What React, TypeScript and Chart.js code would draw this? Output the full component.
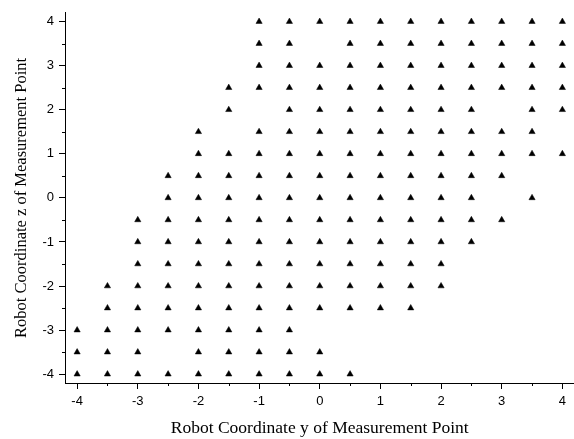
import React, { useEffect, useRef } from "react";
import { Chart, registerables } from "chart.js";

Chart.register(...registerables);

// z levels (rows) and the y values present at each level
const zLevels = [4, 3.5, 3, 2.5, 2, 1.5, 1, 0.5, 0, -0.5, -1, -1.5, -2, -2.5, -3, -3.5, -4];
const yAtZ4 = [-1, -0.5, 0, 0.5, 1, 1.5, 2, 2.5, 3, 3.5, 4];
const yAtZ3_5 = [-1, -0.5, 0.5, 1, 1.5, 2, 2.5, 3, 3.5, 4];
const yAtZ3 = [-1, -0.5, 0, 0.5, 1, 1.5, 2, 2.5, 3, 3.5, 4];
const yAtZ2_5 = [-1.5, -1, -0.5, 0, 0.5, 1, 1.5, 2, 2.5, 3, 3.5, 4];
const yAtZ2 = [-1.5, -0.5, 0, 0.5, 1, 1.5, 2, 2.5, 3.5, 4];
const yAtZ1_5 = [-2, -1, -0.5, 0, 0.5, 1, 1.5, 2, 2.5, 3, 3.5];
const yAtZ1 = [-2, -1.5, -1, -0.5, 0, 0.5, 1, 1.5, 2, 2.5, 3, 3.5, 4];
const yAtZ0_5 = [-2.5, -2, -1.5, -1, -0.5, 0, 0.5, 1, 1.5, 2, 2.5, 3];
const yAtZ0 = [-2.5, -2, -1.5, -1, -0.5, 0, 0.5, 1, 1.5, 2, 2.5, 3.5];
const yAtZm0_5 = [-3, -2.5, -2, -1.5, -1, -0.5, 0, 0.5, 1, 1.5, 2, 2.5, 3];
const yAtZm1 = [-3, -2.5, -2, -1.5, -1, -0.5, 0, 0.5, 1, 1.5, 2, 2.5];
const yAtZm1_5 = [-3, -2.5, -2, -1.5, -1, -0.5, 0, 0.5, 1, 1.5, 2];
const yAtZm2 = [-3.5, -3, -2.5, -2, -1.5, -1, -0.5, 0, 0.5, 1, 1.5, 2];
const yAtZm2_5 = [-3.5, -3, -2.5, -2, -1.5, -1, -0.5, 0, 0.5, 1, 1.5];
const yAtZm3 = [-4, -3.5, -3, -2.5, -2, -1.5, -1, -0.5];
const yAtZm3_5 = [-4, -3.5, -3, -2, -1.5, -1, -0.5, 0];
const yAtZm4 = [-4, -3.5, -3, -2.5, -2, -1.5, -1, -0.5, 0, 0.5];

const yRows = [
  yAtZ4, yAtZ3_5, yAtZ3, yAtZ2_5, yAtZ2, yAtZ1_5, yAtZ1, yAtZ0_5, yAtZ0,
  yAtZm0_5, yAtZm1, yAtZm1_5, yAtZm2, yAtZm2_5, yAtZm3, yAtZm3_5, yAtZm4,
];

const majorTicks = [-4, -3, -2, -1, 0, 1, 2, 3, 4];
const minorTicks = [-3.5, -2.5, -1.5, -0.5, 0.5, 1.5, 2.5, 3.5];
const xTitle = "Robot Coordinate y of Measurement Point";
const yTitle = "Robot Coordinate z of Measurement Point";

const minorTickPlugin = {
  id: "minorTicks",
  afterDraw(chart: any) {
    const ctx = chart.ctx;
    const xs = chart.scales.x;
    const ys = chart.scales.y;
    ctx.save();
    ctx.strokeStyle = "#000";
    ctx.lineWidth = 1;
    ctx.beginPath();
    for (const v of minorTicks) {
      const px = Math.round(xs.getPixelForValue(v)) + 0.5;
      ctx.moveTo(px, xs.top);
      ctx.lineTo(px, xs.top + 3);
      const py = Math.round(ys.getPixelForValue(v)) + 0.5;
      ctx.moveTo(ys.right, py);
      ctx.lineTo(ys.right - 3, py);
    }
    ctx.stroke();
    ctx.restore();
  },
};

export default function App() {
  const ref = useRef<HTMLCanvasElement>(null);
  useEffect(() => {
    if (!ref.current) return;
    const data: { x: number; y: number }[] = [];
    zLevels.forEach((z, i) => {
      yRows[i].forEach((y) => data.push({ x: y, y: z }));
    });
    const tickFont = { family: "'Liberation Sans', Arial, sans-serif", size: 13 };
    const xTitleFont = { family: "'Liberation Serif', 'Times New Roman', serif", size: 17.5 };
    const yTitleFont = { family: "'Liberation Serif', 'Times New Roman', serif", size: 16.5 };
    const setTicks = (scale: any) => {
      scale.ticks = majorTicks.map((v) => ({ value: v }));
    };
    const chart = new Chart(ref.current, {
      type: "scatter",
      data: {
        datasets: [
          {
            data,
            pointStyle: "triangle",
            pointRadius: 3.6,
            pointBorderWidth: 0.5,
            backgroundColor: "#000",
            borderColor: "#000",
          },
        ],
      },
      options: {
        responsive: false,
        animation: false,
        layout: { padding: { top: 11, right: 0, left: 0, bottom: 0 } },
        plugins: { legend: { display: false }, tooltip: { enabled: false } },
        scales: {
          x: {
            type: "linear",
            min: -4.2,
            max: 4.2,
            afterBuildTicks: setTicks,
            afterFit: (s: any) => {
              s.height = 56;
            },
            border: { display: true, color: "#000", width: 1 },
            grid: { drawOnChartArea: false, drawTicks: true, tickLength: 6, color: "#000" },
            ticks: { color: "#000", font: tickFont, padding: 5, maxRotation: 0 },
            title: { display: true, text: xTitle, color: "#000", font: xTitleFont, padding: { top: 4, bottom: 0 } },
          },
          y: {
            type: "linear",
            min: -4.2,
            max: 4.2,
            afterBuildTicks: setTicks,
            afterFit: (s: any) => {
              s.width = 65;
            },
            border: { display: true, color: "#000", width: 1 },
            grid: { drawOnChartArea: false, drawTicks: true, tickLength: 6, color: "#000" },
            ticks: { color: "#000", font: tickFont, padding: 5 },
            title: { display: true, text: yTitle, color: "#000", font: yTitleFont, padding: { top: 12, bottom: 0 } },
          },
        },
      },
      plugins: [minorTickPlugin],
    });
    return () => chart.destroy();
  }, []);
  return (
    <div style={{ position: "fixed", left: 0, top: 0, width: 574, height: 439, overflow: "hidden", background: "#fff" }}>
      <canvas ref={ref} width={579} height={439} style={{ display: "block" }} />
    </div>
  );
}
